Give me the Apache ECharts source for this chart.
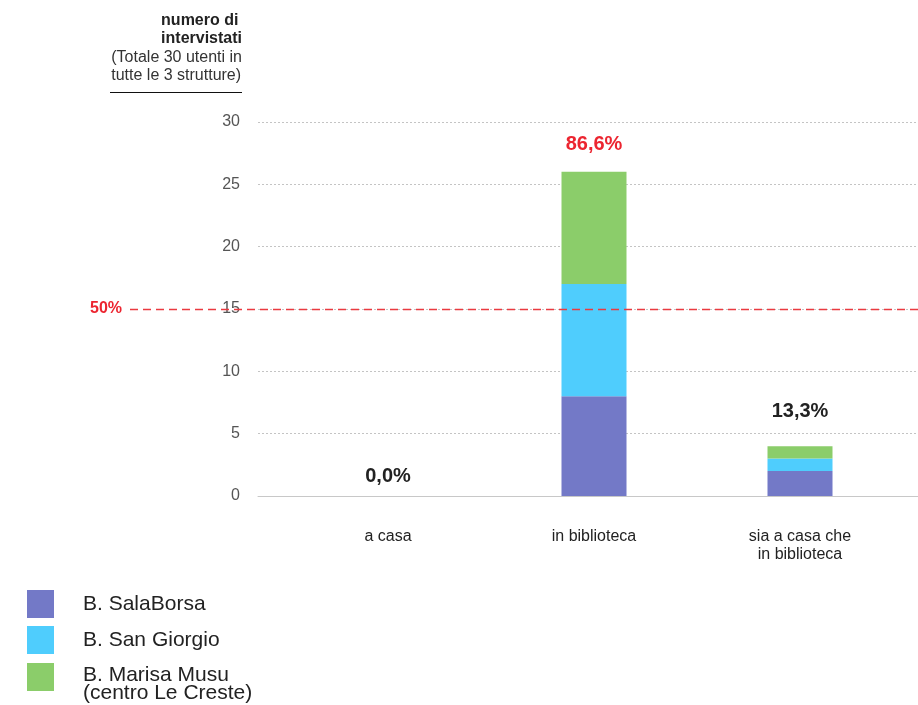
<!DOCTYPE html>
<html>
<head>
<meta charset="utf-8">
<script src="https://cdn.jsdelivr.net/npm/echarts@6/dist/echarts.min.js"></script>
<style>
  html, body { margin: 0; padding: 0; background: #fff; }
  #chart { width: 918px; height: 705px; }
</style>
</head>
<body>
<div id="chart"></div>
<script>
    // dati
    const categories = ['a casa', 'in biblioteca', 'sia a casa che\nin biblioteca'];
    const salaBorsa = [0, 8, 2];
    const sanGiorgio = [0, 9, 1];
    const marisaMusu = [0, 9, 1];
    const percentLabels = ['0,0%', '86,6%', '13,3%'];
    const percentColors = ['#222', '#ec2530', '#222'];
    const soglia = 15;   // 50% di 30
    const legendNames = ['B. SalaBorsa', 'B. San Giorgio', 'B. Marisa Musu\n(centro Le Creste)'];

    const font = '"Liberation Sans", Arial, sans-serif';
    const totals = categories.map((c, i) => salaBorsa[i] + sanGiorgio[i] + marisaMusu[i]);
    const labelGap = [10, 17, 25];

    const barSeries = (name, data, color) => ({
        name: name,
        type: 'bar',
        stack: 'tot',
        xAxisIndex: 1,
        yAxisIndex: 1,
        barWidth: 65,
        itemStyle: {color: color},
        data: data
    });

    // una legenda per voce, così il quadrato della terza resta sulla prima riga
    const legendItem = (name, top, spacer) => ({
        orient: 'vertical',
        left: 27,
        top: top,
        padding: 0,
        itemWidth: 27,
        itemHeight: 28,
        icon: 'rect',
        formatter: spacer ? (n => '{s| }\n' + n) : '{name}',
        textStyle: {
            fontSize: 21, color: '#222', fontFamily: font, padding: [0, 0, 0, 24], lineHeight: 18,
            rich: {s: {fontSize: 10, lineHeight: 14}}
        },
        data: [name]
    });

    let option = {
        animation: false,
        textStyle: {fontFamily: font},
        grid: [
            {left: 258, right: 0, top: 122, bottom: 209},   // griglia + asse y
            {left: 285, right: 15, top: 122, bottom: 209}    // barre
        ],
        xAxis: [
            {
                gridIndex: 0, type: 'category', data: [''],
                axisLine: {show: true, lineStyle: {color: '#c8c8c8'}},
                axisTick: {show: false}, axisLabel: {show: false}
            },
            {
                gridIndex: 1, type: 'category', data: categories,
                axisLine: {show: false}, axisTick: {show: false},
                axisLabel: {margin: 32, color: '#222', fontSize: 16, fontFamily: font, lineHeight: 18}
            }
        ],
        yAxis: [
            {
                gridIndex: 0, type: 'value', min: 0, max: 30, interval: 5,
                axisLine: {show: false}, axisTick: {show: false},
                axisLabel: {margin: 18, color: '#555', fontSize: 16, fontFamily: font, padding: [6, 0, 0, 0]},
                splitLine: {lineStyle: {color: '#c4c4c4', type: [2, 2]}}
            },
            {
                gridIndex: 1, type: 'value', min: 0, max: 30, interval: 5,
                show: false
            }
        ],
        legend: [
            legendItem(legendNames[0], 590, false),
            legendItem(legendNames[1], 626, false),
            legendItem(legendNames[2], 652, true)
        ],
        graphic: [
            {
                type: 'text', right: 918 - 242, top: 11,
                style: {text: 'numero di\nintervistati', font: 'bold 16px ' + font, fill: '#222', align: 'right', lineHeight: 18.5}
            },
            {
                type: 'text', right: 918 - 242, top: 48,
                style: {text: '(Totale 30 utenti in\ntutte le 3 strutture)', font: '16px ' + font, fill: '#333', align: 'right', lineHeight: 18.5}
            },
            {
                type: 'line', shape: {x1: 110, y1: 92.5, x2: 242, y2: 92.5},
                style: {stroke: '#111', lineWidth: 1}
            }
        ],
        series: [
            barSeries(legendNames[0], salaBorsa, '#7379c7'),
            barSeries(legendNames[1], sanGiorgio, '#4fcdfd'),
            barSeries(legendNames[2], marisaMusu, '#8bcd6a'),
            {
                name: 'percentuali',
                type: 'scatter',
                xAxisIndex: 1,
                yAxisIndex: 1,
                symbolSize: 0,
                silent: true,
                itemStyle: {opacity: 1},
                data: totals.map((v, i) => ({
                    value: v,
                    label: {
                        show: true, position: 'top', distance: labelGap[i],
                        formatter: percentLabels[i], color: percentColors[i],
                        fontSize: 20, fontWeight: 'bold', fontFamily: font
                    }
                }))
            },
            {
                name: 'soglia',
                type: 'line',
                xAxisIndex: 0,
                yAxisIndex: 0,
                data: [],
                z: 10,
                markLine: {
                    silent: true,
                    z: 10,
                    symbol: ['none', 'none'],
                    lineStyle: {color: '#ea3a40', type: [8, 5], width: 1.3, opacity: 1},
                    emphasis: {disabled: true},
                    label: {
                        position: 'start', formatter: '50%', color: '#ec2530',
                        fontWeight: 'bold', fontSize: 16, fontFamily: font, distance: 8
                    },
                    data: [[{x: 130, yAxis: soglia}, {x: 918, yAxis: soglia}]]
                }
            }
        ]
    };

    const myChart = echarts.init(document.getElementById('chart'));
    myChart.setOption(option);
</script>
</body>
</html>
